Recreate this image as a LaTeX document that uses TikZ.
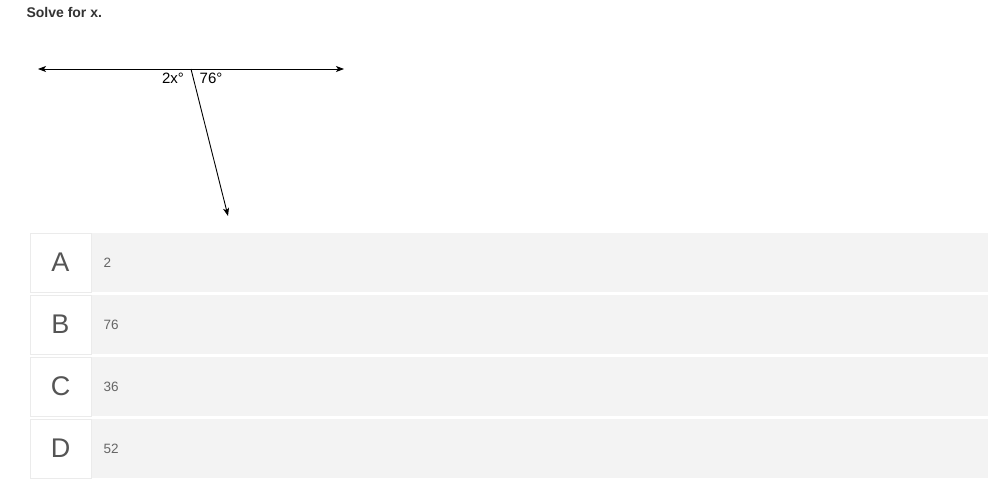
\documentclass[tikz,border=0pt]{standalone}
\usepackage{fontspec}
\setmainfont{Liberation Sans}
\usetikzlibrary{arrows.meta}
\definecolor{rowgray}{HTML}{F3F3F3}
\definecolor{boxedge}{HTML}{EBEBEB}
\definecolor{lettercol}{HTML}{555555}
\definecolor{valcol}{HTML}{666666}
\definecolor{titlecol}{HTML}{333333}
\begin{document}
\begin{tikzpicture}[x=1pt,y=-1pt,
  ray/.style={line width=0.9pt,-{Stealth[length=8pt,width=6pt,inset=2pt]}},
  letterbox/.style={draw=boxedge,fill=white,line width=0.8pt,minimum width=61pt,minimum height=59pt,inner sep=0pt,font=\fontsize{27}{27}\selectfont,text=lettercol},
  rowbox/.style={fill=rowgray,minimum width=897pt,minimum height=59pt,inner sep=0pt,anchor=west},
  valtext/.style={font=\fontsize{13.5}{13.5}\selectfont,text=valcol,anchor=west},
  angtext/.style={font=\fontsize{15}{15}\selectfont}]
\useasboundingbox (0,0) rectangle (1001,493);
\fill[white] (0,0) rectangle (1001,493);
\node[anchor=west,font=\bfseries\fontsize{14}{14}\selectfont,text=titlecol] (title) at (23,12) {Solve for x.};
% geometry
\coordinate (V) at (191,69);
\coordinate (L) at (38,69);
\coordinate (R) at (344,69);
\coordinate (D) at (228,216);
\draw[ray] (V) -- (L);
\draw[ray] (V) -- (R);
\draw[ray] (V) -- (D);
\node[angtext] (a1) at (173,78) {2x°};
\node[angtext] (a2) at (211,78) {76°};
% answer rows
\foreach \L/\v/\y in {A/2/262.5,B/76/324.5,C/36/386.5,D/52/448.5}{
  \node[rowbox] (row\L) at (91,\y) {};
  \node[letterbox] (let\L) at (60.5,\y) {\L};
  \node[valtext] (val\L) at (100,\y) {\v};
}
\end{tikzpicture}
\end{document}
